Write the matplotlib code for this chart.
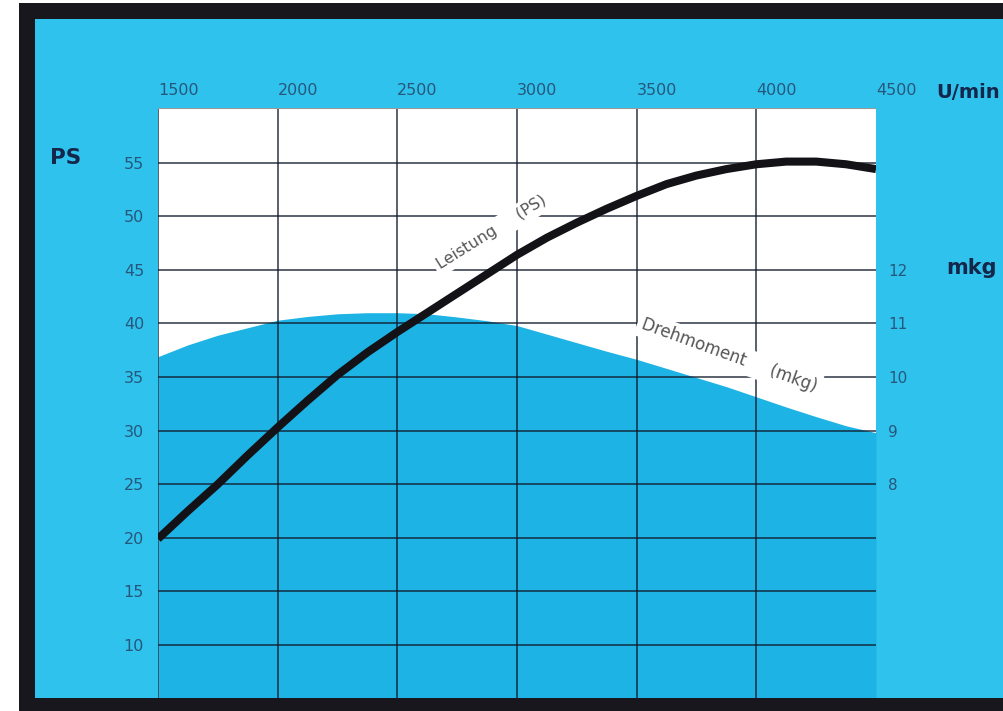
"""Engine curve card: power (PS) and torque (mkg) over engine speed."""
import matplotlib
matplotlib.use("Agg")
import matplotlib.pyplot as plt
from matplotlib.patches import Rectangle

rpm = [1500, 1625, 1750, 1875, 2000, 2125, 2250, 2375, 2500, 2625, 2750, 2875, 3000,
       3125, 3250, 3375, 3500, 3625, 3750, 3875, 4000, 4125, 4250, 4375, 4500]
power_ps = [19.9, 22.5, 25.0, 27.7, 30.3, 32.8, 35.2, 37.3, 39.2, 41.0, 42.8, 44.6, 46.4,
            48.0, 49.4, 50.7, 51.9, 53.0, 53.8, 54.4, 54.85, 55.1, 55.1, 54.85, 54.4]
torque_mkg = [10.38, 10.6, 10.78, 10.92, 11.06, 11.13, 11.18, 11.2, 11.2, 11.18, 11.12,
              11.05, 10.96, 10.8, 10.64, 10.48, 10.33, 10.16, 9.99, 9.82, 9.63, 9.44,
              9.26, 9.09, 8.96]

rpm_ticks = [1500, 2000, 2500, 3000, 3500, 4000, 4500]
ps_ticks = [10, 15, 20, 25, 30, 35, 40, 45, 50, 55]
mkg_ticks = [8, 9, 10, 11, 12]

W, H = 1004, 711
BORDER = "#17171d"
CYAN_OUT = "#2fc2ec"
CYAN_IN = "#1db3e4"
LABEL = "#27577c"
NAVY = "#14264a"
PS_LIM = (5.05, 60.1)


def px(x0, y0, x1, y1):
    """Pixel box (top-left origin) -> figure fraction rectangle."""
    return x0 / W, 1 - y1 / H, (x1 - x0) / W, (y1 - y0) / H


fig = plt.figure(figsize=(W / 100, H / 100), dpi=100)
fig.patch.set_facecolor("white")

# dark frame and cyan card behind everything
for (x0, y0, x1, y1), c, z in [((19, 3, W, H), BORDER, -3),
                               ((35, 19, W, 698), CYAN_OUT, -2)]:
    l, b, w, h = px(x0, y0, x1, y1)
    fig.add_artist(Rectangle((l, b), w, h, transform=fig.transFigure,
                             facecolor=c, edgecolor="none", zorder=z))

l, b, w, h = px(158, 108, 876, 698)
ax_t = fig.add_axes([l, b, w, h])          # torque fill lives underneath
ax = ax_t.twinx()                            # power + grid on top
ax_t.set_zorder(1)
ax.set_zorder(2)
ax.patch.set_visible(False)
ax_t.set_facecolor("white")

# torque area, on a mkg scale that lines up with PS: PS = 5 * mkg - 15
ax_t.set_xlim(1500, 4500)
ax_t.set_ylim((PS_LIM[0] + 15) / 5, (PS_LIM[1] + 15) / 5)
ax_t.fill_between(rpm, torque_mkg, 0, color=CYAN_IN, linewidth=0)
ax_t.yaxis.tick_right()
ax_t.set_yticks(mkg_ticks, [str(t) for t in mkg_ticks])
ax_t.tick_params(axis="y", length=0, pad=9, labelsize=11, labelcolor=LABEL)
ax_t.xaxis.tick_top()
ax_t.set_xticks(rpm_ticks, [str(t) for t in rpm_ticks])
ax_t.tick_params(axis="x", length=0, pad=7, labelsize=11.5, labelcolor=LABEL)
for lab in ax_t.get_xticklabels():
    lab.set_ha("left")

ax.set_ylim(*PS_LIM)
ax.set_xlim(1500, 4500)
ax.yaxis.tick_left()
ax.set_yticks(ps_ticks, [str(t) for t in ps_ticks])
ax.tick_params(axis="y", length=0, pad=10, labelsize=11.5, labelcolor=LABEL,
               labelleft=True, labelright=False)
ax.tick_params(axis="x", bottom=False, labelbottom=False, top=False, labeltop=False)

for s in list(ax.spines.values()) + list(ax_t.spines.values()):
    s.set_visible(False)

# grid, dark enough to read on both white and cyan
for y in ps_ticks:
    ax.axhline(y, color="#101a2c", lw=1.3, alpha=0.75, zorder=1)
for x in rpm_ticks[:-1]:
    ax.axvline(x, color="#101a2c", lw=1.3, alpha=0.75, zorder=1)
ax.axhline(PS_LIM[1], color="#999999", lw=0.8, zorder=1)

ax.plot(rpm, power_ps, color="#121217", lw=5.8, solid_capstyle="butt",
        solid_joinstyle="round", zorder=4)

txt = dict(color="#555555", ha="center", va="center", zorder=3,
           bbox=dict(boxstyle="square,pad=0.25", facecolor="white", edgecolor="none"))
ax.text(2895, 48.5, "Leistung     (PS)", rotation=32, fontsize=11.5, **txt)
ax.text(3885, 37.0, "Drehmoment     (mkg)", rotation=-20, fontsize=12, **txt)

# axis titles on the card
fig.text(50 / W, 1 - 158 / H, "PS", fontsize=15.5, weight="bold", color=NAVY,
         ha="left", va="center")
fig.text(936 / W, 1 - 92 / H, "U/min", fontsize=14, weight="bold", color=NAVY,
         ha="left", va="center")
fig.text(946 / W, 1 - 268 / H, "mkg", fontsize=15, weight="bold", color=NAVY,
         ha="left", va="center")

# bottom edge of the frame over the plot
l, b, w, h = px(19, 698, W, H)
fig.add_artist(Rectangle((l, b), w, h, transform=fig.transFigure,
                         facecolor=BORDER, edgecolor="none", zorder=5))

fig.savefig("out.png", dpi=100, facecolor="white")
